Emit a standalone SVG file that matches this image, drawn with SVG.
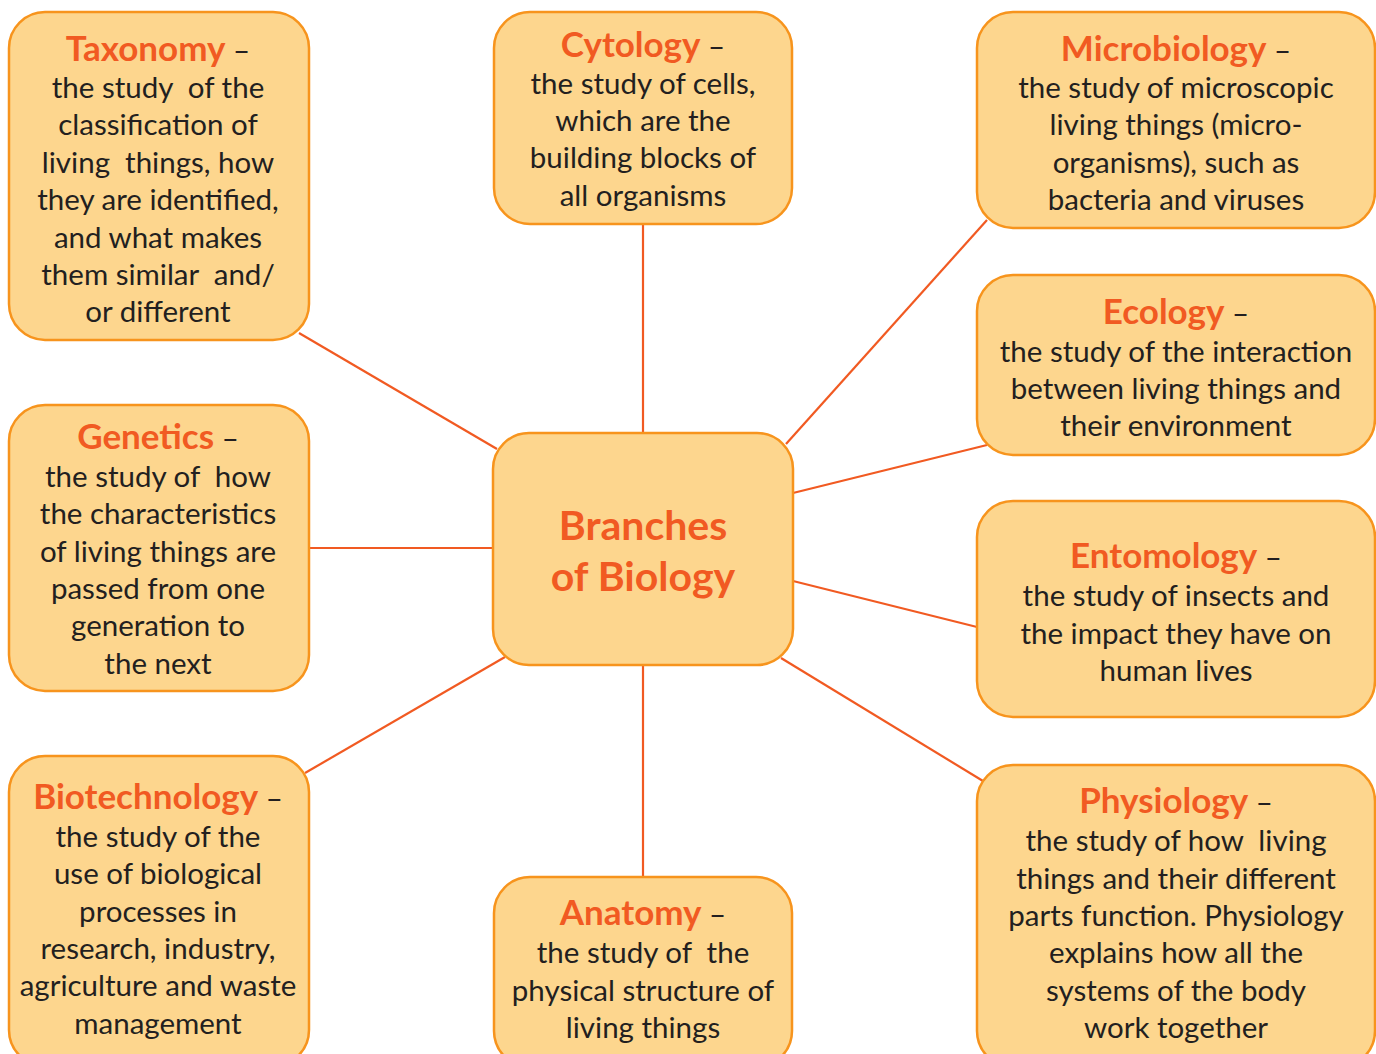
<svg xmlns="http://www.w3.org/2000/svg" width="1376" height="1054" viewBox="0 0 1376 1054">
<style>
.box{fill:#FDD68E;stroke:#F7941D;stroke-width:2.5}
.con{stroke:#F15A22;stroke-width:2.2;fill:none}
text{font-family:Lato,"Open Sans","Liberation Sans",sans-serif;text-anchor:middle;fill:#231F20;font-size:29.5px;white-space:pre}
.t{fill:#F15A22;font-weight:bold;font-size:35px}
.c{fill:#F15A22;font-weight:bold;font-size:41px}
</style>
<rect width="1376" height="1054" fill="#fff"/>
<g id="connectors">
<line class="con" x1="299" y1="333" x2="497" y2="449"/>
<line class="con" x1="643" y1="224" x2="643" y2="433"/>
<line class="con" x1="987" y1="220" x2="786" y2="444"/>
<line class="con" x1="987" y1="445" x2="793" y2="493"/>
<line class="con" x1="309" y1="548" x2="493" y2="548"/>
<line class="con" x1="793" y1="581" x2="977" y2="627"/>
<line class="con" x1="305" y1="773" x2="505" y2="657"/>
<line class="con" x1="643" y1="665" x2="643" y2="877"/>
<line class="con" x1="781" y1="658" x2="983" y2="781"/>
</g>
<g id="center">
<rect class="box" x="493" y="433" width="300" height="232" rx="36"/>
<text class="c" x="643" y="540">Branches</text>
<text class="c" x="643" y="591">of Biology</text>
</g>
<g id="taxonomy">
<rect class="box" x="9" y="12" width="300" height="328" rx="36"/>
<text x="158" y="61"><tspan class="t">Taxonomy</tspan> –</text>
<text x="158" y="98">the study  of the</text>
<text x="158" y="135">classification of</text>
<text x="158" y="173">living  things, how</text>
<text x="158" y="210">they are identified,</text>
<text x="158" y="248">and what makes</text>
<text x="158" y="285">them similar  and/</text>
<text x="158" y="322">or different</text>
</g>
<g id="cytology">
<rect class="box" x="494" y="12" width="298" height="212" rx="36"/>
<text x="643" y="57"><tspan class="t">Cytology</tspan> –</text>
<text x="643" y="94">the study of cells,</text>
<text x="643" y="131">which are the</text>
<text x="643" y="168">building blocks of</text>
<text x="643" y="206">all organisms</text>
</g>
<g id="microbiology">
<rect class="box" x="977" y="12" width="398" height="216" rx="36"/>
<text x="1176" y="61"><tspan class="t">Microbiology</tspan> –</text>
<text x="1176" y="98">the study of microscopic</text>
<text x="1176" y="135">living things (micro-</text>
<text x="1176" y="173">organisms), such as</text>
<text x="1176" y="210">bacteria and viruses</text>
</g>
<g id="ecology">
<rect class="box" x="977" y="275" width="398" height="180" rx="36"/>
<text x="1176" y="324"><tspan class="t">Ecology</tspan> –</text>
<text x="1176" y="362">the study of the interaction</text>
<text x="1176" y="399">between living things and</text>
<text x="1176" y="436">their environment</text>
</g>
<g id="genetics">
<rect class="box" x="9" y="405" width="300" height="286" rx="36"/>
<text x="158" y="449"><tspan class="t">Genetics</tspan> –</text>
<text x="158" y="487">the study of  how</text>
<text x="158" y="524">the characteristics</text>
<text x="158" y="562">of living things are</text>
<text x="158" y="599">passed from one</text>
<text x="158" y="636">generation to</text>
<text x="158" y="674">the next</text>
</g>
<g id="entomology">
<rect class="box" x="977" y="501" width="398" height="216" rx="36"/>
<text x="1176" y="568"><tspan class="t">Entomology</tspan> –</text>
<text x="1176" y="606">the study of insects and</text>
<text x="1176" y="644">the impact they have on</text>
<text x="1176" y="681">human lives</text>
</g>
<g id="biotechnology">
<rect class="box" x="9" y="756" width="300" height="310" rx="36"/>
<text x="158" y="809"><tspan class="t">Biotechnology</tspan> –</text>
<text x="158" y="847">the study of the</text>
<text x="158" y="884">use of biological</text>
<text x="158" y="922">processes in</text>
<text x="158" y="959">research, industry,</text>
<text x="158" y="996">agriculture and waste</text>
<text x="158" y="1034">management</text>
</g>
<g id="anatomy">
<rect class="box" x="494" y="877" width="298" height="190" rx="36"/>
<text x="643" y="925"><tspan class="t">Anatomy</tspan> –</text>
<text x="643" y="963">the study of  the</text>
<text x="643" y="1001">physical structure of</text>
<text x="643" y="1038">living things</text>
</g>
<g id="physiology">
<rect class="box" x="977" y="765" width="398" height="302" rx="36"/>
<text x="1176" y="813"><tspan class="t">Physiology</tspan> –</text>
<text x="1176" y="851">the study of how  living</text>
<text x="1176" y="889">things and their different</text>
<text x="1176" y="926">parts function. Physiology</text>
<text x="1176" y="963">explains how all the</text>
<text x="1176" y="1001">systems of the body</text>
<text x="1176" y="1038">work together</text>
</g>
</svg>
